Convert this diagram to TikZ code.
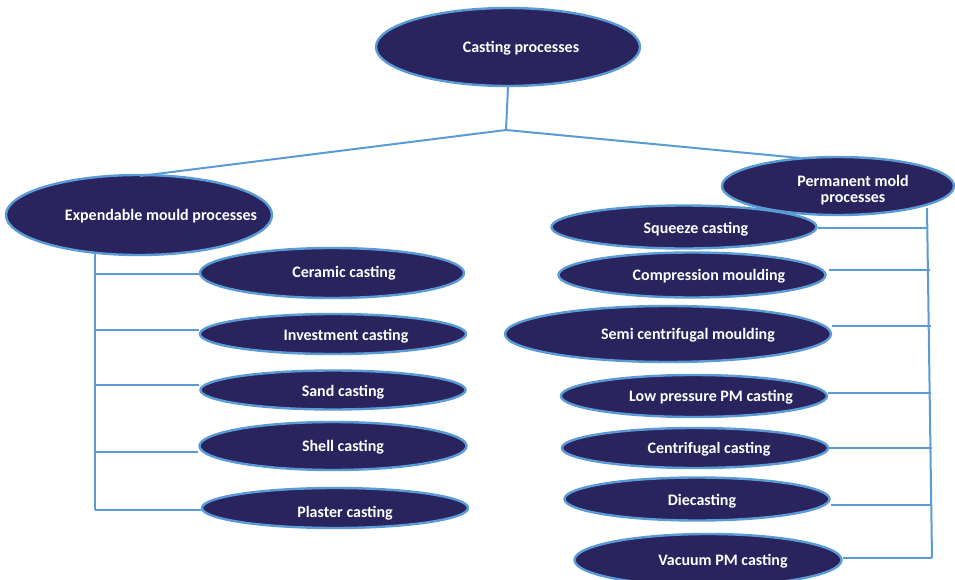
\documentclass[tikz,border=0pt]{standalone}
\usepackage{fontspec}
\setmainfont{Carlito}
\usetikzlibrary{shapes.geometric}
\definecolor{navy}{RGB}{41,35,94}
\definecolor{skyline}{RGB}{91,155,213}
\tikzset{
  oval/.style={ellipse, draw=skyline, line width=2.4pt, fill=navy, inner sep=0pt},
  lbl/.style={text=white, font=\bfseries\fontsize{16}{16.5}\selectfont, align=center, inner sep=0pt, anchor=base},
  link/.style={draw=skyline, line width=2pt}
}
\begin{document}
\begin{tikzpicture}[x=1pt, y=-1pt]
\useasboundingbox (0,0) rectangle (955,580);

% root
\node[oval, minimum width=264pt, minimum height=78pt] (root) at (508,47) {};
\node[lbl] (roott) at (521,52.5) {Casting processes};

% two families
\node[oval, minimum width=266pt, minimum height=80pt] (exp) at (139,215) {};
\node[lbl] (expt) at (161,220.5) {Expendable mould processes};
\node[oval, minimum width=232pt, minimum height=58pt] (perm) at (838,186) {};
\node[lbl, anchor=center] (permt) at (853,190) {Permanent mold\\processes};

% expendable mould processes
\node[oval, minimum width=264pt, minimum height=50pt] (cer) at (332,273) {};
\node[lbl] (cert) at (344,277.5) {Ceramic casting};
\node[oval, minimum width=266pt, minimum height=40pt] (inv) at (333,334) {};
\node[lbl] (invt) at (346,340.5) {Investment casting};
\node[oval, minimum width=265pt, minimum height=39pt] (sand) at (333,390) {};
\node[lbl] (sandt) at (343,396.5) {Sand casting};
\node[oval, minimum width=267pt, minimum height=48pt] (shell) at (333,446) {};
\node[lbl] (shellt) at (343,451) {Shell casting};
\node[oval, minimum width=266pt, minimum height=40pt] (plas) at (335,508) {};
\node[lbl] (plast) at (345,517.5) {Plaster casting};

% permanent mold processes
\node[oval, minimum width=265pt, minimum height=43pt] (sq) at (684,227) {};
\node[lbl] (sqt) at (696,233.5) {Squeeze casting};
\node[oval, minimum width=267pt, minimum height=45pt] (comp) at (692,275) {};
\node[lbl] (compt) at (709,280.5) {Compression moulding};
\node[oval, minimum width=326pt, minimum height=56pt] (semi) at (668,334) {};
\node[lbl] (semit) at (688,339.5) {Semi centrifugal moulding};
\node[oval, minimum width=266pt, minimum height=42pt] (low) at (694,396) {};
\node[lbl] (lowt) at (711,401.5) {Low pressure PM casting};
\node[oval, minimum width=266pt, minimum height=40pt] (cent) at (695,448) {};
\node[lbl] (centt) at (709,453.5) {Centrifugal casting};
\node[oval, minimum width=265pt, minimum height=43pt] (die) at (697,499) {};
\node[lbl] (diet) at (702,505) {Diecasting};
\node[oval, minimum width=267pt, minimum height=52pt] (vac) at (708,560) {};
\node[lbl] (vact) at (723,565) {Vacuum PM casting};

% trunk points
\coordinate (hub) at (506,130);
\coordinate (ltop) at (95,253);
\coordinate (rtop) at (927,208);
\coordinate (l1) at (95,274);
\coordinate (l2) at (95,330);
\coordinate (l3) at (95,385);
\coordinate (l4) at (95,452);
\coordinate (l5) at (95,510);
\coordinate (r1) at (928,228);
\coordinate (r2) at (930,270);
\coordinate (r3) at (931,326);
\coordinate (r4) at (931,393);
\coordinate (r5) at (932,448);
\coordinate (r6) at (932,505);
\coordinate (r7) at (932,558);

% connectors
\draw[link] (root.south) -- (hub);
\draw[link] (hub) -- (140,176);
\draw[link] (hub) -- (800,158);
\draw[link] (ltop) -- (l5);
\draw[link] (rtop) -- (r7);
\draw[link] (l1) -- (l1 -| cer.west);
\draw[link] (l2) -- (l2 -| inv.west);
\draw[link] (l3) -- (l3 -| sand.west);
\draw[link] (l4) -- (l4 -| shell.west);
\draw[link] (l5) -- (l5 -| plas.west);
\draw[link] (r1) -- (r1 -| sq.east);
\draw[link] (r2) -- ([xshift=2pt]r2 -| comp.east);
\draw[link] (r3) -- (r3 -| semi.east);
\draw[link] (r4) -- (r4 -| low.east);
\draw[link] (r5) -- (r5 -| cent.east);
\draw[link] (r6) -- (r6 -| die.east);
\draw[link] (r7) -- (r7 -| vac.east);
\end{tikzpicture}
\end{document}
